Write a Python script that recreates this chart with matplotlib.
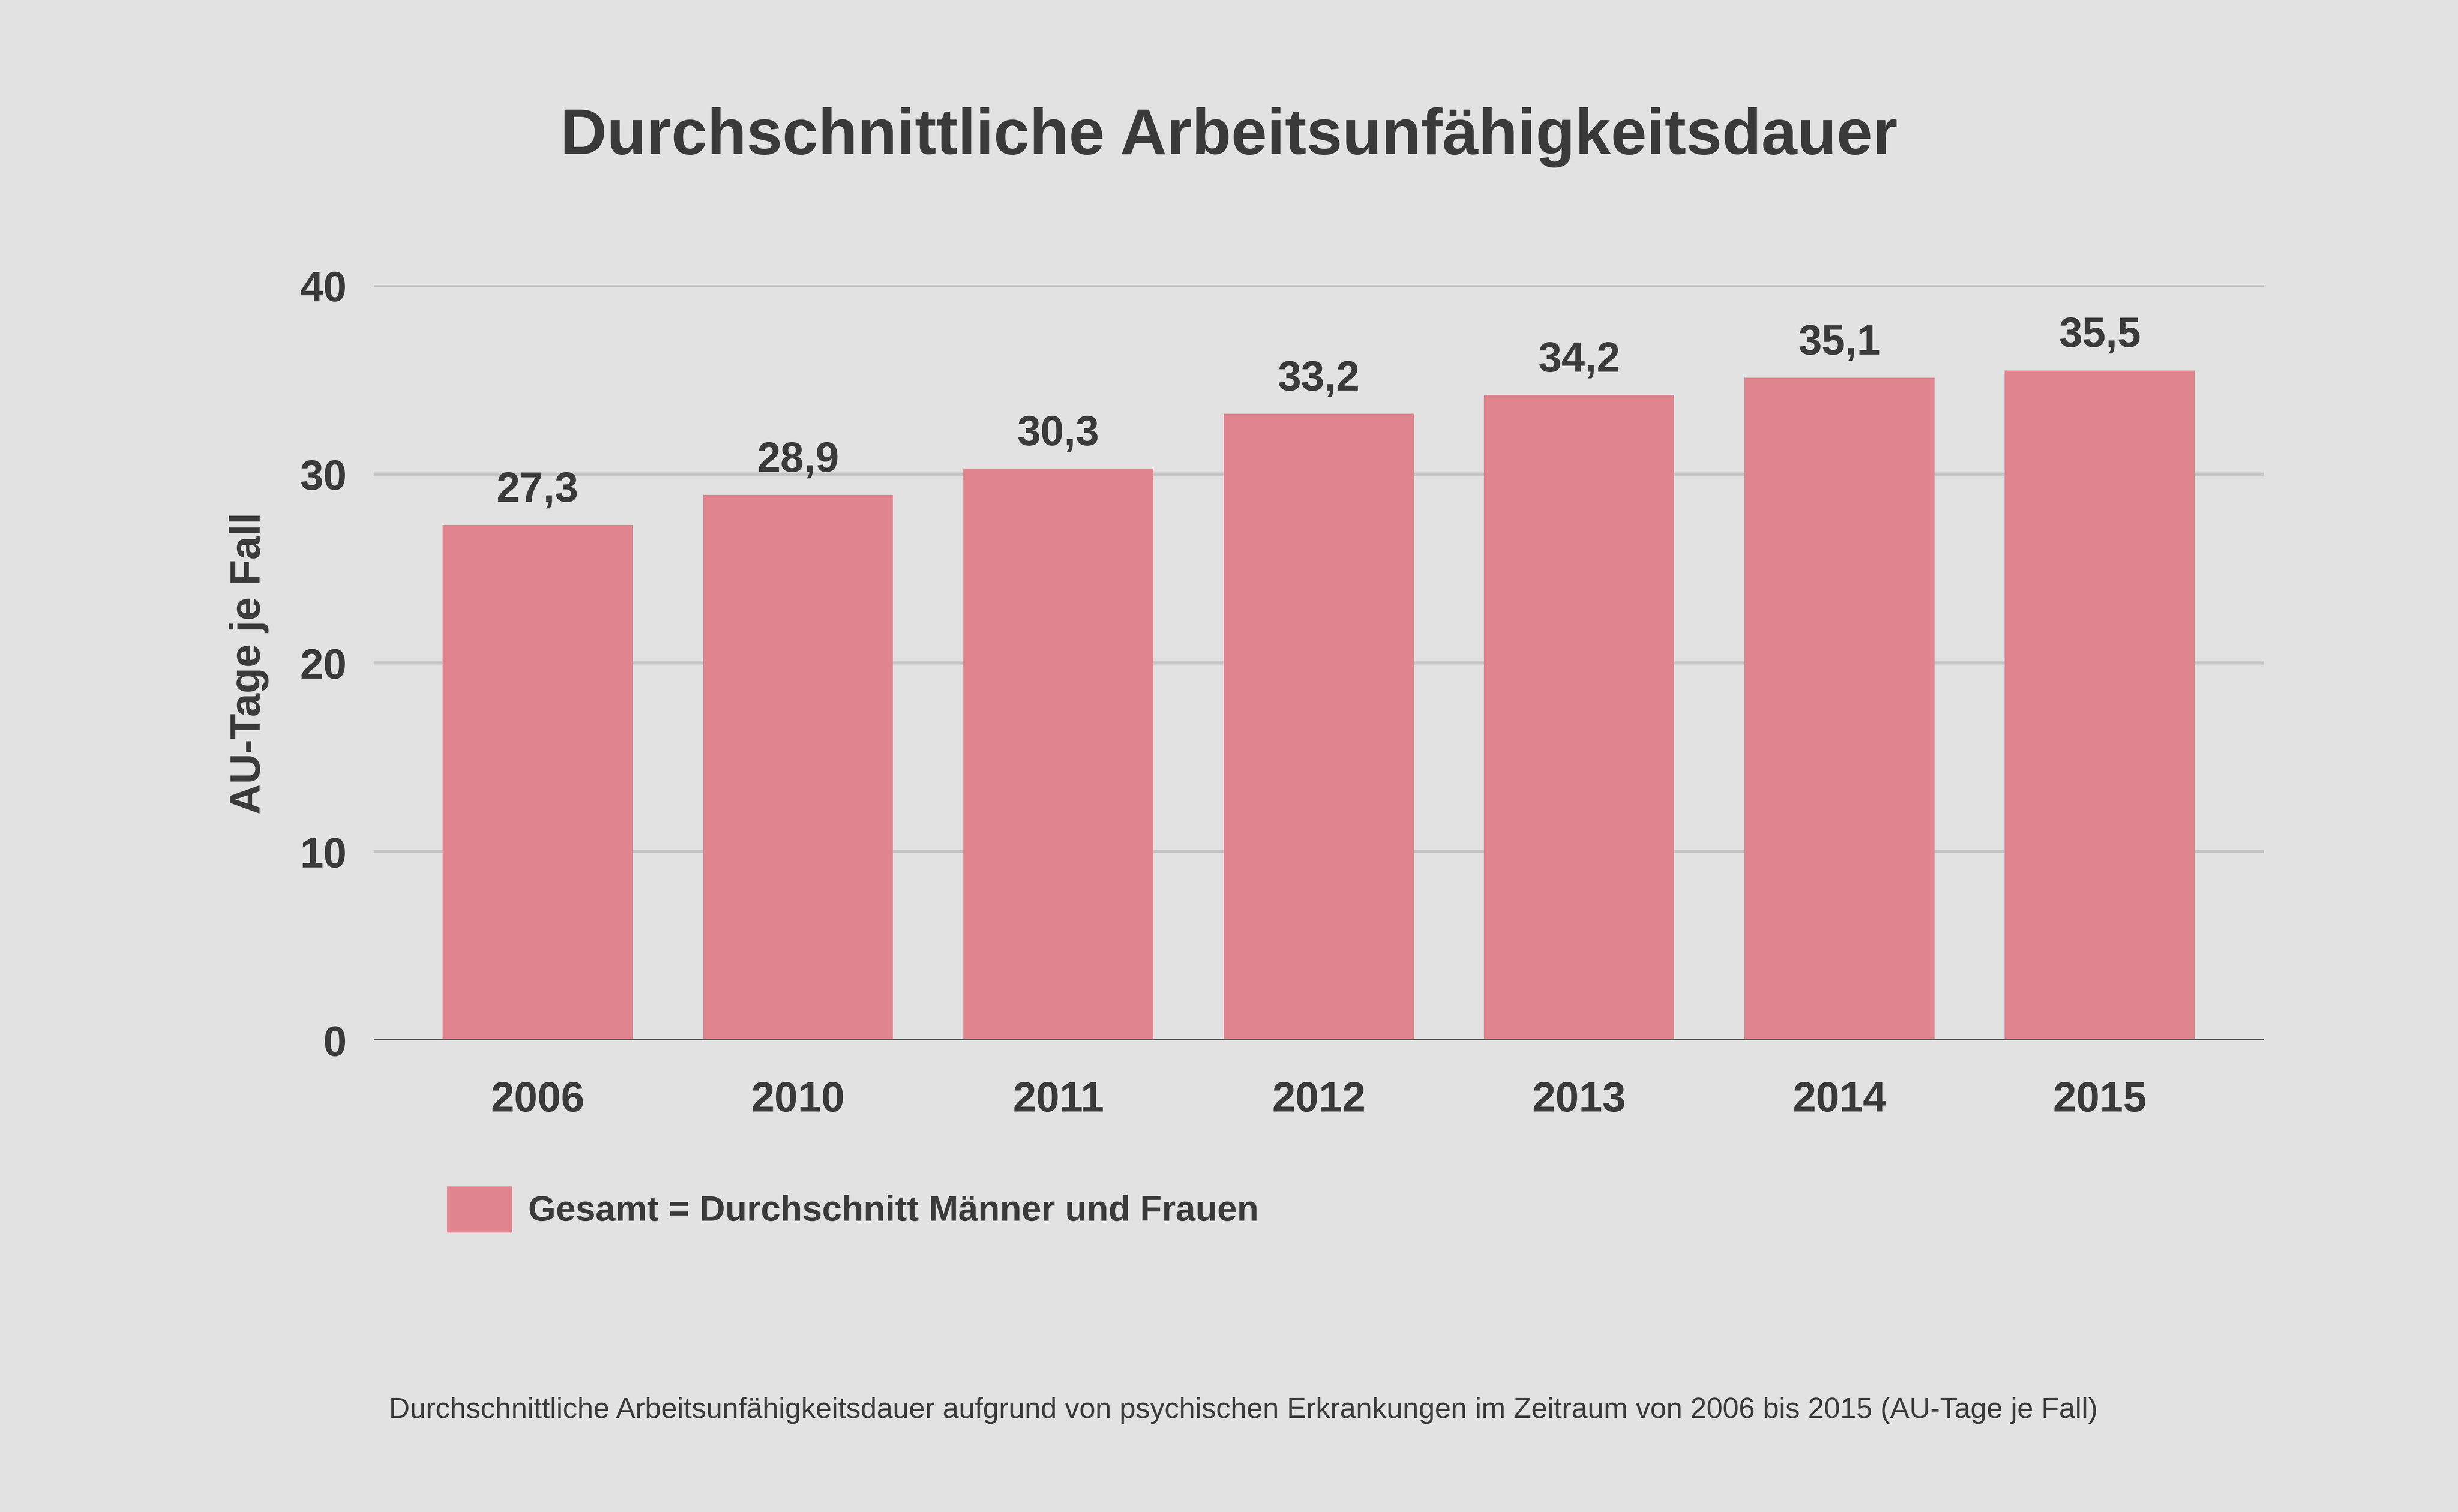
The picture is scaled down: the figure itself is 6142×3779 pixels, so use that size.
import matplotlib.pyplot as plt
from matplotlib.patches import Rectangle

years = ["2006", "2010", "2011", "2012", "2013", "2014", "2015"]
values = [27.3, 28.9, 30.3, 33.2, 34.2, 35.1, 35.5]
yticks = [0, 10, 20, 30, 40]

bg = "#E2E2E2"
bar_color = "#E0848E"
text_color = "#3A3A3A"

plt.rcParams["font.family"] = ["Liberation Sans", "DejaVu Sans"]

fig = plt.figure(figsize=(15.355, 9.45), dpi=400, facecolor=bg)
ax = fig.add_axes([0.152, 0.312, 0.769, 0.499], facecolor=bg)

x = list(range(len(years)))
ax.bar(x, values, width=0.73, color=bar_color, zorder=3)
for xi, v in zip(x, values):
    ax.text(xi, v + 0.8, f"{v:.1f}".replace(".", ","), ha="center", va="bottom",
            fontsize=19, fontweight="bold", color=text_color)

ax.set_xlim(-0.63, len(years) - 1 + 0.63)
ax.set_ylim(0, 40)
ax.set_yticks(yticks)
ax.set_xticks(x)
ax.set_xticklabels(years)
ax.tick_params(axis="both", length=0, labelsize=19, colors=text_color)
ax.tick_params(axis="x", pad=18)
ax.tick_params(axis="y", pad=12)
for lab in ax.get_xticklabels() + ax.get_yticklabels():
    lab.set_fontweight("bold")
ax.grid(axis="y", color="#C4C4C4", linewidth=1.4, zorder=0)
ax.axhline(40, color="#555555", linewidth=1.4, zorder=1)
ax.axhline(0, color="#555555", linewidth=1.6, zorder=4)
for s in ax.spines.values():
    s.set_visible(False)
ax.set_ylabel("AU-Tage je Fall", fontsize=19, fontweight="bold", color=text_color, labelpad=14)

fig.text(0.5, 0.909, "Durchschnittliche Arbeitsunfähigkeitsdauer", ha="center", va="center",
         fontsize=29, fontweight="bold", color=text_color)

fig.patches.append(Rectangle((286 / 1568, 1 - 786 / 965), 40 / 1568, 28 / 965,
                             transform=fig.transFigure, color=bar_color))
fig.text(337 / 1568, 1 - 773 / 965, "Gesamt = Durchschnitt Männer und Frauen", ha="left",
         va="center", fontsize=16, fontweight="bold", color=text_color)

fig.text(793 / 1568, 1 - 900 / 965,
         "Durchschnittliche Arbeitsunfähigkeitsdauer aufgrund von psychischen Erkrankungen "
         "im Zeitraum von 2006 bis 2015 (AU-Tage je Fall)",
         ha="center", va="center", fontsize=13, color=text_color)

fig.savefig("out.png", dpi=400, facecolor=bg)
